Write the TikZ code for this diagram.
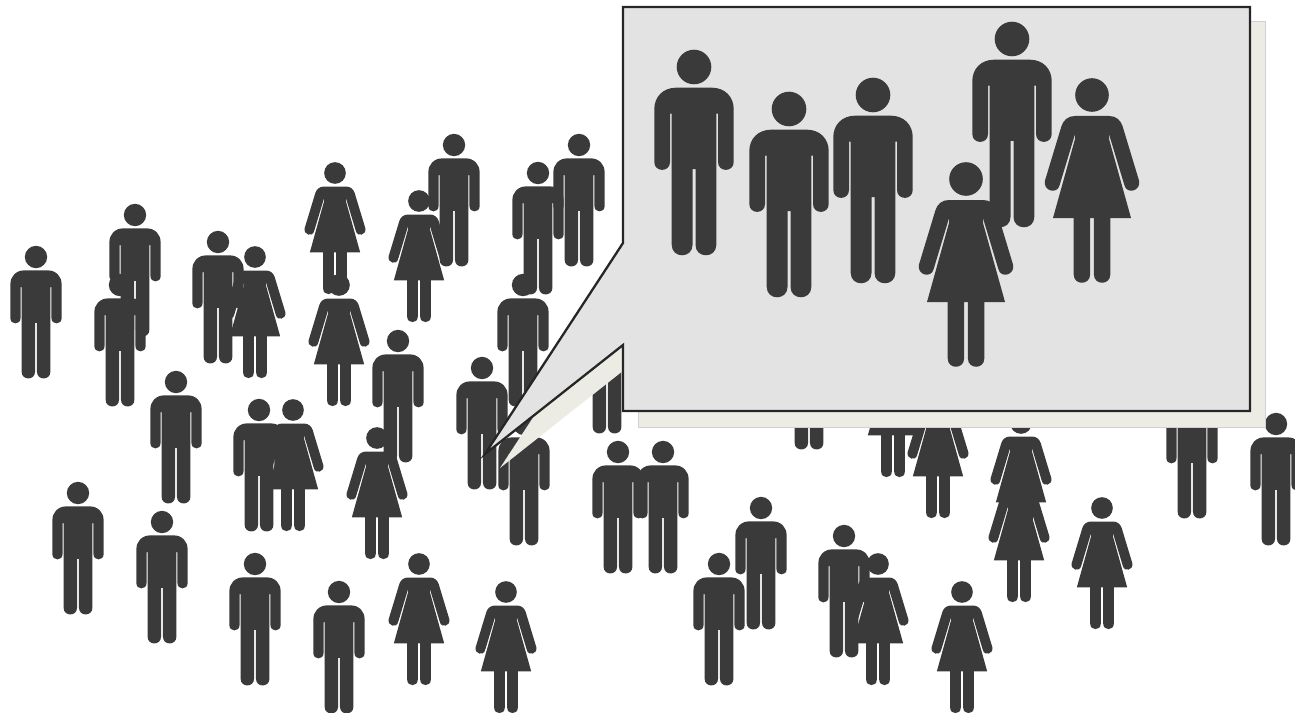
\documentclass[tikz,border=0pt]{standalone}
\definecolor{figcol}{HTML}{3A3A3A}
\definecolor{boxcol}{HTML}{E3E3E3}
\definecolor{shadowcol}{HTML}{ECEBE4}
\tikzset{
  figure fill/.style={fill=figcol,draw=none},
  callout box/.style={fill=boxcol,draw=black!85,line width=1.3pt,line join=miter},
  callout shadow/.style={fill=shadowcol,draw=black!18,line width=0.4pt},
}
\newcommand{\manfig}[3]{%
  \begin{scope}[shift={(#1,#2)},scale=#3]
    \fill[figure fill] (0,0) circle (17.3);
    \fill[figure fill]
      (-18,20.7) .. controls (-31,20.7) and (-39.7,30) .. (-39.7,42)
      -- (-39.7,95) .. controls (-39.7,105.5) and (-24,105.5) .. (-24,95)
      -- (-24,46.7) -- (-22.3,46.7)
      -- (-22.3,178) .. controls (-22.3,191.7) and (-1.5,191.7) .. (-1.5,178)
      -- (-1.5,102) -- (1.5,102)
      -- (1.5,178) .. controls (1.5,191.7) and (22.3,191.7) .. (22.3,178)
      -- (22.3,46.7) -- (24,46.7)
      -- (24,95) .. controls (24,105.5) and (39.7,105.5) .. (39.7,95)
      -- (39.7,42) .. controls (39.7,30) and (31,20.7) .. (18,20.7) -- cycle;
  \end{scope}}
\newcommand{\womanfig}[3]{%
  \begin{scope}[shift={(#1,#2)},scale=#3]
    \fill[figure fill] (0,0) circle (16.8);
    % dress
    \fill[figure fill] (-17,21) -- (17,21) -- (17,44) -- (39,123) -- (-39,123) -- (-17,44) -- cycle;
    % arms
    \fill[figure fill] (-17,21) .. controls (-24,21) and (-28.5,25) .. (-30.5,31)
      -- (-47,85.5) .. controls (-49.5,96) and (-34.5,100) .. (-32.3,89.9)
      -- (-15.8,35.2) -- cycle;
    \fill[figure fill] (17,21) .. controls (24,21) and (28.5,25) .. (30.5,31)
      -- (47,85.5) .. controls (49.5,96) and (34.5,100) .. (32.3,89.9)
      -- (15.8,35.2) -- cycle;
    % legs
    \fill[figure fill] (-18.3,120) -- (-18.3,179.5) .. controls (-18.3,190.5) and (-1.9,190.5) .. (-1.9,179.5) -- (-1.9,120) -- cycle;
    \fill[figure fill] (1.9,120) -- (1.9,179.5) .. controls (1.9,190.5) and (18.3,190.5) .. (18.3,179.5) -- (18.3,120) -- cycle;
  \end{scope}}
\begin{document}
\begin{tikzpicture}[x=0.02cm,y=-0.02cm]
\useasboundingbox (0,0) rectangle (1295,713);
\clip (0,0) rectangle (1295,713);
% crowd: men
\foreach \px/\py in {36/257,135/215,120/285,218/242,454/145,538/173,579/145,523/285,398/341,482/368,176/382,259/410,524/424,607/312,809/328,618/452,663/452,761/508,719/564,844/536,78/493,162/522,255/564,339/592,1192/397,1276/424}
  {\manfig{\px}{\py}{0.645}}
% crowd: women
\foreach \px/\py in {255/257,335/173,339/285,419/201,293/410,377/438,893/356,938/397,1021/423,1019/481,1102/508,878/564,962/592,419/564,506/592}
  {\womanfig{\px}{\py}{0.645}}
% callout shadow: box and tail, offset from the callout
\fill[shadowcol] (500,468) -- (638,257) -- (638,359) -- cycle;
\fill[callout shadow] (638,21) rectangle (1265,427);
% callout
\draw[callout box] (623,7) -- (1250,7) -- (1250,411) -- (623,411) -- (623,345) -- (485,454) -- (623,243) -- cycle;
% magnified group
\manfig{694}{67}{1}
\manfig{789}{109}{1}
\manfig{873}{95}{1}
\manfig{1012}{39}{1}
\womanfig{966}{179}{1}
\womanfig{1092}{95}{1}
\end{tikzpicture}
\end{document}
